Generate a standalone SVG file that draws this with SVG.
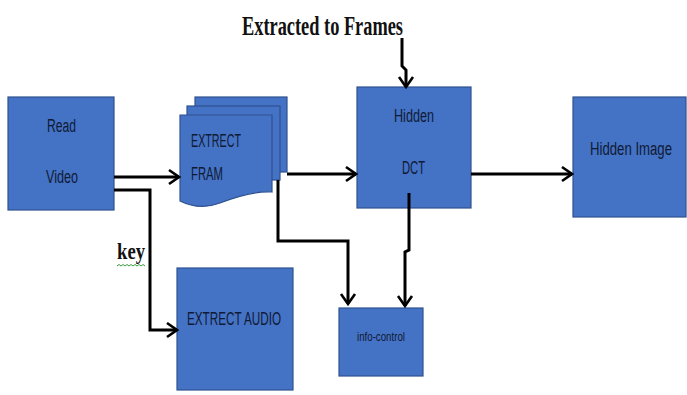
<svg xmlns="http://www.w3.org/2000/svg" width="687" height="395" viewBox="0 0 687 395">
<style>
.box{fill:#4472C4;stroke:#2F528F;stroke-width:1.2}
.lbl{font-family:"Liberation Sans",Arial,sans-serif;font-size:18px;fill:#0f1a36}
.ser{font-family:"Liberation Serif","Times New Roman",serif;font-weight:bold;fill:#111}
.con{fill:none;stroke:#000;stroke-width:3;stroke-linejoin:miter}
</style>
<defs>
<marker id="ah" markerUnits="userSpaceOnUse" markerWidth="14" markerHeight="18" viewBox="0 0 14 18" refX="12" refY="9" orient="auto">
<path d="M2,2 L12,9 L2,16" fill="none" stroke="#000" stroke-width="2.6"/>
</marker>
</defs>
<rect width="687" height="395" fill="#fff"/>
<g id="read-video">
<rect class="box" x="8" y="97" width="106" height="113"/>
<text class="lbl" x="47" y="132" textLength="29" lengthAdjust="spacingAndGlyphs">Read</text>
<text class="lbl" x="46" y="183" textLength="32" lengthAdjust="spacingAndGlyphs">Video</text>
</g>
<g id="extrect-fram">
<rect class="box" x="195" y="97" width="92" height="75"/>
<rect class="box" x="187" y="106" width="93" height="74"/>
<path class="box" d="M180,115 L272,115 L272,192 C255,191 238,196 220,203 C204,209 192,207 180,201 Z"/>
<text class="lbl" x="191" y="147" textLength="50" lengthAdjust="spacingAndGlyphs">EXTRECT</text>
<text class="lbl" x="191" y="180" textLength="32" lengthAdjust="spacingAndGlyphs">FRAM</text>
</g>
<g id="hidden-dct">
<rect class="box" x="357" y="87" width="114" height="121"/>
<text class="lbl" x="394" y="122" textLength="40" lengthAdjust="spacingAndGlyphs">Hidden</text>
<text class="lbl" x="402" y="174" textLength="23" lengthAdjust="spacingAndGlyphs">DCT</text>
</g>
<g id="hidden-image">
<rect class="box" x="573" y="97" width="113" height="120"/>
<text class="lbl" x="631" y="155" text-anchor="middle" textLength="82" lengthAdjust="spacingAndGlyphs">Hidden Image</text>
</g>
<g id="extrect-audio">
<rect class="box" x="177" y="268" width="116" height="122"/>
<text class="lbl" x="187" y="325" textLength="94" lengthAdjust="spacingAndGlyphs">EXTRECT AUDIO</text>
</g>
<g id="info-control">
<rect class="box" x="339" y="308" width="84" height="68"/>
<text class="lbl" x="357" y="341" style="font-size:12px" textLength="48" lengthAdjust="spacingAndGlyphs">info-control</text>
</g>
<g id="title">
<text class="ser" x="242" y="35" style="font-size:28px" textLength="161" lengthAdjust="spacingAndGlyphs">Extracted to Frames</text>
</g>
<g id="key-label">
<text class="ser" x="117" y="259" style="font-size:24px" textLength="28" lengthAdjust="spacingAndGlyphs">key</text>
<path d="M117,266 l2,-1.5 l2,1.5 l2,-1.5 l2,1.5 l2,-1.5 l2,1.5 l2,-1.5 l2,1.5 l2,-1.5 l2,1.5 l2,-1.5 l2,1.5 l2,-1.5 l2,1.5" fill="none" stroke="#3a9a3a" stroke-width="1"/>
</g>
<g id="connectors">
<path class="con" d="M114,177 L179,177" marker-end="url(#ah)"/>
<path class="con" d="M114,190 L150,190 L150,330 L177,330" marker-end="url(#ah)"/>
<path class="con" d="M287,174 L356,174" marker-end="url(#ah)"/>
<path class="con" d="M278,180 L278,241 L348,241 L348,304" marker-end="url(#ah)"/>
<path class="con" d="M409,193 L409,250 L405,252 L405,306" marker-end="url(#ah)"/>
<path class="con" d="M402,38 L402,66 L406,70 L406,87" marker-end="url(#ah)"/>
<path class="con" d="M471,174 L572,174" marker-end="url(#ah)"/>
</g>
</svg>
